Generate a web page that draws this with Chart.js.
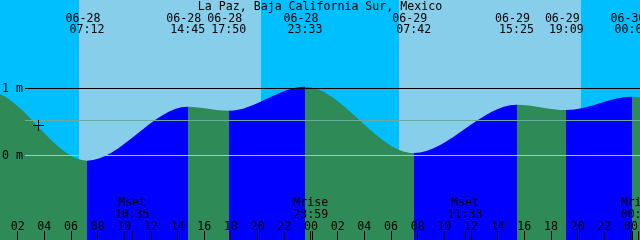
<!DOCTYPE html>
<html>
<head>
<meta charset="utf-8">
<script src="https://cdn.jsdelivr.net/npm/chart.js@4.4.1/dist/chart.umd.min.js"></script>
<style>
  html, body { margin: 0; padding: 0; background: #fff; }
  #wrap { width: 640px; height: 240px; }
</style>
</head>
<body>
<div id="wrap"><canvas id="tide" width="640" height="240"></canvas></div>
<script>
        const titulo = 'La Paz, Baja California Sur, Mexico';
        // horas contadas desde 06-28 00:00 (el primero y el ultimo quedan fuera del grafico)
        const horasMarea  = [-6.8, -0.2, 7.2, 14.75, 17.833, 23.55, 31.7, 39.417, 43.15, 48.067, 56.0];
        const alturas     = [0.40, 0.95, -0.085, 0.72, 0.66, 1.02, 0.03, 0.75, 0.67, 0.87, 0.10];
        // etiquetas de los eventos visibles (horasMarea[2..9])
        const fechasEvento = ['06-28', '06-28', '06-28', '06-28', '06-29', '06-29', '06-29', '06-30'];
        const horaEvento   = ['07:12', '14:45', '17:50', '23:33', '07:42', '15:25', '19:09', '00:04'];
        const amanecer  = [6.6, 30.6];
        const atardecer = [20.25, 44.25];
        const horasLuna  = [10.583, 23.983, 35.55, 48.533];
        const tipoLuna   = ['Mset', 'Mrise', 'Mset', 'Mrise'];
        const relojLuna  = ['10:35', '23:59', '11:33', '00:32'];
        const horasTick  = [2, 4, 6, 8, 10, 12, 14, 16, 18, 20, 22, 24, 26, 28, 30, 32, 34, 36, 38, 40, 42, 44, 46, 48];
        const etiquetasTick = ['02', '04', '06', '08', '10', '12', '14', '16', '18', '20', '22', '00',
                               '02', '04', '06', '08', '10', '12', '14', '16', '18', '20', '22', '00'];
        const niveles = [1, 0.52, 0];
        const etiquetasNivel = ['1 m', '', '0 m'];
        const horaAhora = 3.55, alturaAhora = 0.448;

        const DIA = '#87CEEB', NOCHE = '#00BFFF', FLUJO = '#0000FF', REFLUJO = '#2E8B57';
        const FUENTE = '11.6px "DejaVu Sans Mono", "Liberation Mono", monospace';

        const fondos = {
            id: 'fondos',
            beforeDatasetsDraw(chart) {
                const {ctx, chartArea: a, scales: {x}} = chart;
                ctx.save();
                ctx.fillStyle = NOCHE;
                ctx.fillRect(a.left, a.top, a.right - a.left, a.bottom - a.top);
                ctx.fillStyle = DIA;
                amanecer.forEach((h, i) => {
                    const x0 = Math.round(x.getPixelForValue(h));
                    const x1 = Math.round(x.getPixelForValue(atardecer[i]));
                    ctx.fillRect(x0, a.top, x1 - x0, a.bottom - a.top);
                });
                ctx.restore();
            },
            afterDatasetsDraw(chart) {
                // agua bajo la curva: flujo (sube) azul, reflujo (baja) verde
                const {ctx, chartArea: a, scales: {x}} = chart;
                const linea = chart.getDatasetMeta(0).dataset;
                linea.updateControlPoints(a, 'x');
                const pts = linea.points;
                ctx.save();
                ctx.beginPath();
                linea.segments.forEach((s, i) => linea.pathSegment(ctx, s, {move: i === 0}));
                ctx.lineTo(pts[pts.length - 1].x, a.bottom);
                ctx.lineTo(pts[0].x, a.bottom);
                ctx.closePath();
                ctx.clip();
                for (let i = 0; i < horasMarea.length - 1; i++) {
                    const x0 = Math.round(x.getPixelForValue(horasMarea[i]));
                    const x1 = Math.round(x.getPixelForValue(horasMarea[i + 1]));
                    ctx.fillStyle = alturas[i + 1] > alturas[i] ? FLUJO : REFLUJO;
                    ctx.fillRect(x0, a.top, x1 - x0, a.bottom - a.top);
                }
                ctx.restore();
            }
        };

        const rotulos = {
            id: 'rotulos',
            afterDatasetsDraw(chart) {
                const {ctx, scales: {x, y}} = chart;
                ctx.save();
                ctx.font = FUENTE;
                ctx.fillStyle = '#000';

                // lineas de nivel
                niveles.forEach((v, i) => {
                    const py = Math.round(y.getPixelForValue(v));
                    ctx.fillStyle = v === 1 ? '#000' : (v === 0 ? '#87CEEB' : '#6CAAA0');
                    ctx.fillRect(25, py, 615, 1);
                    if (etiquetasNivel[i]) {
                        ctx.fillStyle = '#000';
                        ctx.textAlign = 'left';
                        ctx.fillText(etiquetasNivel[i], 2, py + 4);
                    }
                });

                // titulo
                ctx.fillStyle = '#000';
                ctx.textAlign = 'center';
                ctx.fillText(titulo, 320, 10);

                // pleamares y bajamares
                fechasEvento.forEach((f, i) => {
                    const px = x.getPixelForValue(horasMarea[i + 2]);
                    ctx.fillText(f, px - 4, 22);
                    ctx.fillText(horaEvento[i], px, 33);
                });

                // luna
                horasLuna.forEach((h, i) => {
                    const px = x.getPixelForValue(h);
                    ctx.fillText(tipoLuna[i], px, 206);
                    ctx.fillText(relojLuna[i], px, 218);
                    ctx.fillRect(Math.floor(px), 231, 1, 9);
                });

                // eje de horas
                horasTick.forEach((h, i) => {
                    const px = x.getPixelForValue(h);
                    ctx.fillText(etiquetasTick[i], px, 230);
                    if (etiquetasTick[i] === '00') {
                        ctx.fillRect(Math.floor(px) - 1, 231, 1, 9);
                        ctx.fillRect(Math.floor(px) + 1, 231, 1, 9);
                    } else {
                        ctx.fillRect(Math.floor(px), 231, 1, 9);
                    }
                });

                // marca de hora actual
                const cx = Math.floor(x.getPixelForValue(horaAhora));
                const cy = Math.round(y.getPixelForValue(alturaAhora));
                ctx.fillRect(cx - 5, cy, 11, 1);
                ctx.fillRect(cx, cy - 5, 1, 11);
                ctx.restore();
            }
        };

        const pxHora = 640 / 48;
        new Chart(document.getElementById('tide'), {
            type: 'line',
            data: {
                datasets: [{
                    data: horasMarea.map((h, i) => ({x: h, y: alturas[i]})),
                    cubicInterpolationMode: 'monotone',
                    borderWidth: 0,
                    borderColor: 'rgba(0,0,0,0)',
                    pointRadius: 0,
                    fill: false
                }]
            },
            options: {
                responsive: false,
                animation: false,
                events: [],
                layout: {padding: 0},
                scales: {
                    x: {type: 'linear', display: false, min: 9 / pxHora, max: 9 / pxHora + 48},
                    y: {display: false, min: -85 / 67, max: 155 / 67}
                },
                plugins: {legend: {display: false}, tooltip: {enabled: false}}
            },
            plugins: [fondos, rotulos]
        });
</script>
</body>
</html>
